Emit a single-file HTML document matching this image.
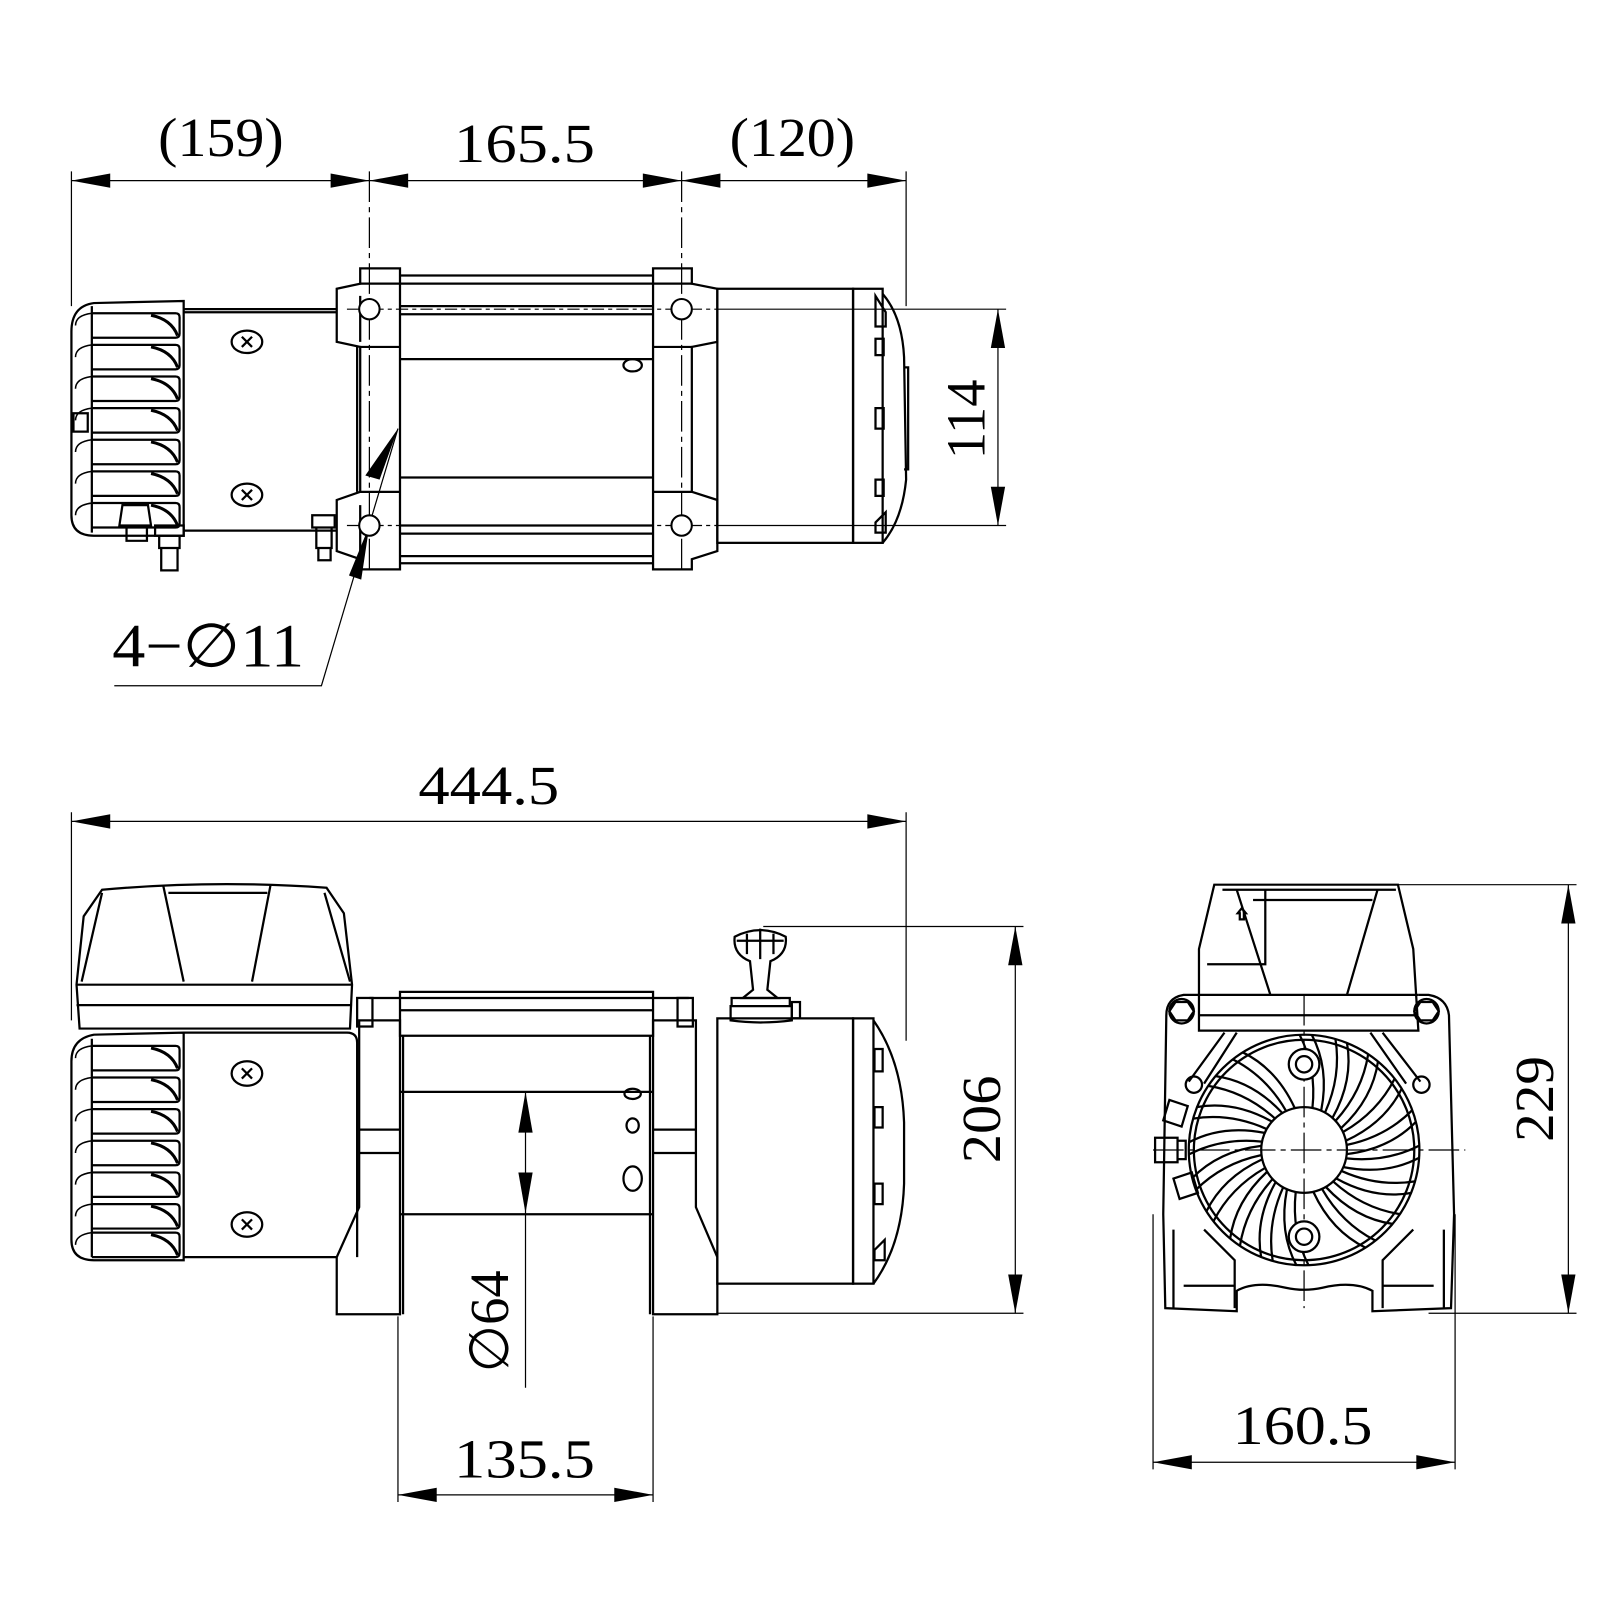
<!DOCTYPE html>
<html><head><meta charset="utf-8"><style>
html,body{margin:0;padding:0;background:#fff;}
svg{display:block;}
text{font-family:"Liberation Serif",serif;fill:#000;}
</style></head><body>
<svg width="1600" height="1600" viewBox="0 0 1600 1600" xmlns="http://www.w3.org/2000/svg">
<g transform="scale(1.0204)">
<defs>
<g id="fin">
<path d="M90,0 L172,0 Q176,0 176,4 L176,20 Q176,24 172,24 L90,24" fill="none" stroke="#000" stroke-width="2.2"/>
<path d="M148,2 Q168,6 174,22" fill="none" stroke="#000" stroke-width="3"/>
<path d="M90,0 Q74,2 74,12" fill="none" stroke="#000" stroke-width="1.5"/>
</g>
<g id="spoke">
<path d="M1320,1122 Q1358,1114 1384,1088" fill="none" stroke="#000" stroke-width="2.2"/>
<path d="M1320,1131 Q1362,1126 1388,1099" fill="none" stroke="#000" stroke-width="2.2"/>
</g>
</defs>

<!-- ======== DIMENSIONS ======== -->
<g stroke="#000" stroke-width="1.2" fill="none">
<line x1="70" y1="177" x2="888" y2="177"/>
<line x1="70" y1="168" x2="70" y2="300"/>
<line x1="362" y1="168" x2="362" y2="560" stroke-dasharray="30,5,5,5"/>
<line x1="668" y1="168" x2="668" y2="560" stroke-dasharray="30,5,5,5"/>
<line x1="888" y1="168" x2="888" y2="300"/>
<line x1="700" y1="303" x2="986" y2="303"/>
<line x1="700" y1="515" x2="986" y2="515"/>
<line x1="978" y1="303" x2="978" y2="515"/>
<line x1="340" y1="303" x2="700" y2="303" stroke-dasharray="12,4,4,4"/>
<line x1="340" y1="515" x2="700" y2="515" stroke-dasharray="12,4,4,4"/>
<polyline points="112,672 315,672 390,420"/>
<line x1="70" y1="805" x2="888" y2="805"/>
<line x1="70" y1="796" x2="70" y2="1000"/>
<line x1="888" y1="796" x2="888" y2="1020"/>
<line x1="748" y1="908" x2="1003" y2="908"/>
<line x1="703" y1="1287" x2="1003" y2="1287"/>
<line x1="995" y1="908" x2="995" y2="1287"/>
<line x1="515" y1="1070" x2="515" y2="1360"/>
<line x1="390" y1="1290" x2="390" y2="1472"/>
<line x1="640" y1="1290" x2="640" y2="1472"/>
<line x1="390" y1="1465" x2="640" y2="1465"/>
<line x1="1310" y1="867" x2="1545" y2="867"/>
<line x1="1400" y1="1287" x2="1545" y2="1287"/>
<line x1="1537" y1="867" x2="1537" y2="1287"/>
<line x1="1130" y1="1190" x2="1130" y2="1440"/>
<line x1="1426" y1="1190" x2="1426" y2="1440"/>
<line x1="1130" y1="1433" x2="1426" y2="1433"/>
<line x1="1130" y1="1127" x2="1436" y2="1127" stroke-dasharray="30,5,5,5"/>
<line x1="1278" y1="975" x2="1278" y2="1282" stroke-dasharray="30,5,5,5"/>
</g>
<g fill="#000">
<polygon points="70,177 108,170 108,184"/>
<polygon points="362,177 324,170 324,184"/>
<polygon points="362,177 400,170 400,184"/>
<polygon points="668,177 630,170 630,184"/>
<polygon points="668,177 706,170 706,184"/>
<polygon points="888,177 850,170 850,184"/>
<polygon points="978,303 971,341 985,341"/>
<polygon points="978,515 971,477 985,477"/>
<polygon points="390,420 372,470 358,466"/>
<polygon points="362,515 354,568 342,564" />
<polygon points="70,805 108,798 108,812"/>
<polygon points="888,805 850,798 850,812"/>
<polygon points="995,908 988,946 1002,946"/>
<polygon points="995,1287 988,1249 1002,1249"/>
<polygon points="515,1070 508,1110 522,1110"/>
<polygon points="515,1189 508,1149 522,1149"/>
<polygon points="390,1465 428,1458 428,1472"/>
<polygon points="640,1465 602,1458 602,1472"/>
<polygon points="1537,867 1530,905 1544,905"/>
<polygon points="1537,1287 1530,1249 1544,1249"/>
<polygon points="1130,1433 1168,1426 1168,1440"/>
<polygon points="1426,1433 1388,1426 1388,1440"/>
</g>
<g font-size="54">
<text x="155" y="153" textLength="123" lengthAdjust="spacingAndGlyphs">(159)</text>
<text x="445" y="159" textLength="138" lengthAdjust="spacingAndGlyphs">165.5</text>
<text x="715" y="153" textLength="123" lengthAdjust="spacingAndGlyphs">(120)</text>
<text x="110" y="653" font-size="60" textLength="188" lengthAdjust="spacingAndGlyphs">4−∅11</text>
<text x="410" y="788" textLength="138" lengthAdjust="spacingAndGlyphs">444.5</text>
<text x="445" y="1448" textLength="138" lengthAdjust="spacingAndGlyphs">135.5</text>
<text x="1208" y="1415" textLength="137" lengthAdjust="spacingAndGlyphs">160.5</text>
<text transform="translate(965,411) rotate(-90)" text-anchor="middle" textLength="78" lengthAdjust="spacingAndGlyphs">114</text>
<text transform="translate(980,1097) rotate(-90)" text-anchor="middle" textLength="86" lengthAdjust="spacingAndGlyphs">206</text>
<text transform="translate(498,1295) rotate(-90)" text-anchor="middle" textLength="100" lengthAdjust="spacingAndGlyphs">∅64</text>
<text transform="translate(1522,1077) rotate(-90)" text-anchor="middle" textLength="84" lengthAdjust="spacingAndGlyphs">229</text>
</g>

<!-- ======== TOP VIEW ======== -->
<g stroke="#000" stroke-width="2.2" fill="none">
<path d="M180,295 L92,297 Q70,300 70,325 L70,505 Q70,525 92,525 L180,525 Z"/>
<line x1="90" y1="300" x2="90" y2="522"/>
<use href="#fin" y="307"/><use href="#fin" y="338"/><use href="#fin" y="369"/><use href="#fin" y="400"/><use href="#fin" y="431"/><use href="#fin" y="462"/><use href="#fin" y="493"/>
<rect x="72" y="405" width="14" height="18"/>
<path d="M180,303 L330,303 M180,306 L330,306 M180,520 L330,520"/>
<ellipse cx="242" cy="335" rx="15" ry="11"/><ellipse cx="242" cy="485" rx="15" ry="11"/>
<path d="M237,330 l10,10 m0,-10 l-10,10 M237,480 l10,10 m0,-10 l-10,10"/>
<path d="M120,495 L145,495 L148,515 L117,515 Z M124,515 h20 v15 h-20 z"/>
<path d="M152,515 h28 v10 h-28 z M156,525 h20 v12 h-20 z M158,537 h16 v22 h-16 z"/>
<path d="M306,505 h22 v12 h-22 z M310,517 h15 v20 h-15 z M312,537 h12 v12 h-12 z"/>
<path d="M330,283 L353,278 L353,263 L392,263 L392,558 L353,558 L353,548 L330,540 L330,490 L353,482 L353,340 L330,335 Z"/>
<path d="M353,278 L392,278 M353,340 L392,340 M353,482 L392,482 M350,340 L350,482 M353,290 L353,335 M353,495 L353,540"/>
<path d="M392,270 H640 M392,278 H640 M392,300 H640 M392,308 H640 M392,352 H640 M392,468 H640 M392,515 H640 M392,523 H640 M392,545 H640 M392,552 H640"/>
<ellipse cx="620" cy="358" rx="9" ry="6"/>
<path d="M640,263 L678,263 L678,278 L703,283 L703,335 L678,340 L678,482 L703,490 L703,540 L678,548 L678,558 L640,558 Z"/>
<path d="M640,278 L678,278 M640,340 L678,340 M640,482 L678,482"/>
<rect x="703" y="283" width="133" height="249"/>
<rect x="836" y="283" width="29" height="249"/>
<path d="M865,288 Q884,310 886,350 L888,470 Q884,510 865,532"/>
<path d="M886,360 L890,360 L890,460 L886,460"/>
<path d="M858,290 l10,16 v14 h-10 z M858,332 h8 v16 h-8 z M858,400 h8 v20 h-8 z M858,470 h8 v16 h-8 z M858,512 l10,-10 v20 h-10 z"/>
</g>
<g stroke="#000" stroke-width="2" fill="#fff">
<circle cx="362" cy="303" r="10"/><circle cx="362" cy="515" r="10"/>
<circle cx="668" cy="303" r="10"/><circle cx="668" cy="515" r="10"/>
</g>

<!-- ======== SIDE VIEW ======== -->
<g stroke="#000" stroke-width="2.2" fill="none">
<path d="M100,872 Q210,862 320,870 L337,895 L345,965 L343,1008 L78,1008 L75,965 L82,898 Z"/>
<path d="M75,965 H345 M75,985 H345"/>
<path d="M160,868 L180,962 M265,868 L247,962 M165,875 H262 M100,875 L80,962 M318,875 L343,962"/>
<path d="M180,1012 L92,1014 Q70,1018 70,1040 L70,1215 Q70,1235 92,1235 L180,1235 Z"/>
<line x1="90" y1="1018" x2="90" y2="1232"/>
<use href="#fin" y="1025"/><use href="#fin" y="1056"/><use href="#fin" y="1087"/><use href="#fin" y="1118"/><use href="#fin" y="1149"/><use href="#fin" y="1180"/><use href="#fin" y="1208"/>
<path d="M180,1012 L340,1012 Q350,1012 350,1022 L350,1232 M180,1232 H330"/>
<ellipse cx="242" cy="1052" rx="15" ry="12"/><ellipse cx="242" cy="1200" rx="15" ry="12"/>
<path d="M237,1047 l10,10 m0,-10 l-10,10 M237,1195 l10,10 m0,-10 l-10,10"/>
<path d="M330,1288 L330,1232 L352,1183 L352,1000 L392,1000 L392,1288 Z"/>
<path d="M352,1107 H392 M352,1130 H392 M395,1015 V1288"/>
<rect x="350" y="978" width="15" height="28"/>
<path d="M362,978 H675 M392,972 H640 V1015 H392 Z M392,990 H640 M392,1070 H640 M392,1190 H640"/>
<path d="M637,1015 V1288"/>
<ellipse cx="620" cy="1072" rx="8" ry="5"/><ellipse cx="620" cy="1103" rx="6" ry="7"/><ellipse cx="620" cy="1155" rx="9" ry="12"/>
<path d="M640,1288 L640,1000 L682,1000 L682,1183 L703,1232 L703,1288 Z"/>
<path d="M640,1107 H682 M640,1130 H682"/>
<rect x="664" y="978" width="15" height="28"/>
<rect x="703" y="998" width="133" height="260"/>
<rect x="836" y="998" width="20" height="260"/>
<path d="M856,1000 Q884,1040 886,1100 L886,1160 Q884,1220 856,1258"/>
<path d="M857,1028 h8 v22 h-8 z M857,1085 h8 v20 h-8 z M857,1160 h8 v20 h-8 z M857,1225 l10,-10 v20 h-10 z"/>
<path d="M720,918 Q745,905 770,918 Q772,935 755,942 L752,970 L762,978 L740,978 L728,978 L738,970 L735,942 Q718,935 720,918 Z"/>
<path d="M722,922 H768 M745,910 V940 M732,915 V935 M758,915 V935"/>
<path d="M717,978 H774 V986 H717 Z M716,986 H776 V1000 Q745,1004 716,1000 Z"/>
<rect x="776" y="982" width="8" height="16"/>
</g>

<!-- ======== FRONT VIEW ======== -->
<g stroke="#000" stroke-width="2.2" fill="none">
<path d="M1175,975 L1160,975 Q1143,978 1143,995 L1140,1190 L1142,1282 L1212,1285 L1212,1265 Q1230,1255 1260,1262 Q1278,1266 1296,1262 Q1326,1255 1345,1265 L1345,1285 L1422,1282 L1425,1190 L1420,995 Q1418,978 1400,975 L1390,975"/>
<path d="M1190,867 L1370,867 L1385,930 L1390,1010 L1175,1010 L1175,930 Z"/>
<path d="M1175,975 H1390 M1175,995 H1390"/>
<path d="M1198,872 L1368,872 M1228,882 H1345 M1212,872 L1245,975 M1350,872 L1320,975 M1183,945 L1240,945 V872"/>
<path d="M1213,895 l4,-5 4,5 h-2 v6 h-4 v-6 z"/>
<polygon points="1152,982 1164,982 1170,991 1164,1000 1152,1000 1146,991"/>
<polygon points="1392,982 1404,982 1410,991 1404,1000 1392,1000 1386,991"/>
<circle cx="1158" cy="991" r="12"/><circle cx="1398" cy="991" r="12"/>
<path d="M1200,1012 L1165,1060 M1212,1012 L1180,1062 M1355,1012 L1392,1060 M1343,1012 L1378,1062"/>
<circle cx="1170" cy="1063" r="8"/><circle cx="1393" cy="1063" r="8"/>
<circle cx="1278" cy="1127" r="113"/>
<circle cx="1278" cy="1127" r="108"/>
<circle cx="1278" cy="1127" r="42"/>
<use href="#spoke"/>
<use href="#spoke" transform="rotate(18 1278 1127)"/>
<use href="#spoke" transform="rotate(36 1278 1127)"/>
<use href="#spoke" transform="rotate(54 1278 1127)"/>
<use href="#spoke" transform="rotate(72 1278 1127)"/>
<use href="#spoke" transform="rotate(108 1278 1127)"/>
<use href="#spoke" transform="rotate(126 1278 1127)"/>
<use href="#spoke" transform="rotate(144 1278 1127)"/>
<use href="#spoke" transform="rotate(162 1278 1127)"/>
<use href="#spoke" transform="rotate(180 1278 1127)"/>
<use href="#spoke" transform="rotate(198 1278 1127)"/>
<use href="#spoke" transform="rotate(216 1278 1127)"/>
<use href="#spoke" transform="rotate(234 1278 1127)"/>
<use href="#spoke" transform="rotate(252 1278 1127)"/>
<use href="#spoke" transform="rotate(288 1278 1127)"/>
<use href="#spoke" transform="rotate(306 1278 1127)"/>
<use href="#spoke" transform="rotate(324 1278 1127)"/>
<use href="#spoke" transform="rotate(342 1278 1127)"/>
<circle cx="1278" cy="1043" r="15" fill="#fff"/><circle cx="1278" cy="1043" r="8"/>
<circle cx="1278" cy="1212" r="15" fill="#fff"/><circle cx="1278" cy="1212" r="8"/>
<path d="M1146,1078 l18,6 -6,20 -18,-6 z M1132,1115 h22 v24 h-22 z M1154,1118 h8 v18 h-8 z M1150,1155 l18,-6 6,20 -18,6 z"/>
<path d="M1150,1205 L1150,1282 M1160,1260 L1210,1260 M1180,1205 L1210,1235 L1210,1282 M1415,1205 L1415,1282 M1405,1260 L1355,1260 M1385,1205 L1355,1235 L1355,1282"/>
</g>
</g>
</svg>
</body></html>
